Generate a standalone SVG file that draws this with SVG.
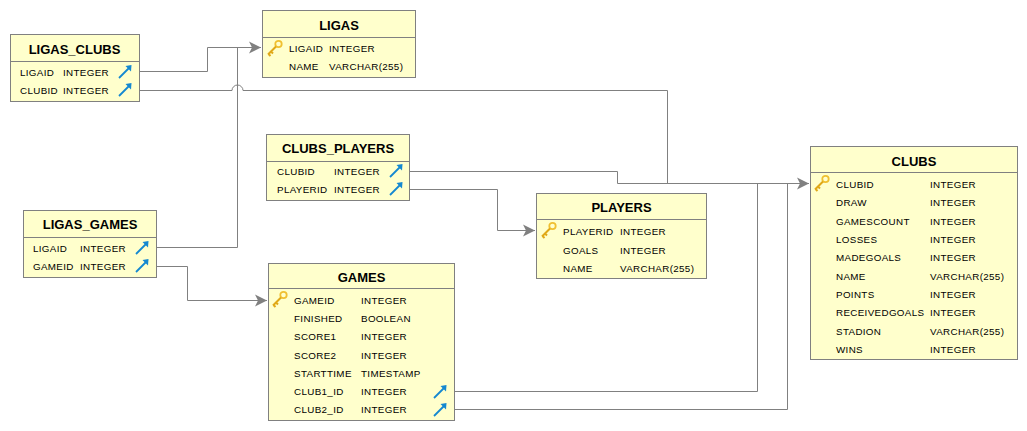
<svg xmlns="http://www.w3.org/2000/svg" xmlns:xlink="http://www.w3.org/1999/xlink" width="1027" height="431" viewBox="0 0 1027 431">
<style>
.b{fill:#ffffcc;stroke:#808080;stroke-width:1}
.h{stroke:#808080;stroke-width:1;fill:none}
.t{font-family:"Liberation Sans",Arial,sans-serif;font-weight:bold;font-size:13px;fill:#000;text-anchor:middle}
.f{font-family:"Liberation Sans",Arial,sans-serif;font-size:9.8px;letter-spacing:.35px;fill:#000;transform:translateY(-.5px)}
.c{fill:none;stroke:#808080;stroke-width:1}
</style>
<defs>
<marker id="ah" markerUnits="userSpaceOnUse" markerWidth="13" markerHeight="14" refX="12" refY="7" orient="auto"><path d="M0 1L12 7L0 13L3 7Z" fill="#808080"/></marker>
<g id="key"><circle cx="12.500" cy="4" r="3.200" fill="none" stroke="#f0c030" stroke-width="1.800"/><path d="M10 6.500L2 14.500M2.500 14L4.500 16M5 11.500L7 13.500" fill="none" stroke="#e0a818" stroke-width="2"/></g>
<g id="fk"><path d="M1 14L11 4" stroke="#1488d0" stroke-width="1.800" fill="none"/><path d="M7.500 2L13.500 1L13 7.500Z" fill="#1488d0"/></g>
</defs>
<g id="connectors">
<path class="c" d="M140 71.500H207.500V47.500H261" marker-end="url(#ah)"/>
<path class="c" d="M140 90.500H232A5.500 5.500 0 0 1 243 90.500H667.500V183.500"/>
<path class="c" d="M157 247.500H237.500V47.500"/>
<path class="c" d="M157 266.500H187.500V300.500H267" marker-end="url(#ah)"/>
<path class="c" d="M410 171.500H617.500V183.500H809" marker-end="url(#ah)"/>
<path class="c" d="M410 189.500H497.500V230.500H535" marker-end="url(#ah)"/>
<path class="c" d="M455 391.500H757.500V183.500"/>
<path class="c" d="M455 409.500H787.500V183.500"/>
</g>
<g id="LIGAS_CLUBS">
<rect class="b" x="10.500" y="34.500" width="129" height="67"/><path class="h" d="M10.500 61.500H139.500"/>
<text class="t" x="74.500" y="54">LIGAS_CLUBS</text>
<text class="f" x="20" y="76.500">LIGAID</text><text class="f" x="63" y="76.500">INTEGER</text>
<text class="f" x="20" y="94.500">CLUBID</text><text class="f" x="63" y="94.500">INTEGER</text>
<use xlink:href="#fk" x="118" y="64"/><use xlink:href="#fk" x="118" y="82"/>
</g>
<g id="LIGAS">
<rect class="b" x="262.500" y="10.500" width="153" height="67"/><path class="h" d="M262.500 37.500H415.500"/>
<text class="t" x="339" y="30">LIGAS</text>
<use xlink:href="#key" x="266" y="40"/>
<text class="f" x="289" y="52.500">LIGAID</text><text class="f" x="329" y="52.500">INTEGER</text>
<text class="f" x="289" y="70.500">NAME</text><text class="f" x="329" y="70.500">VARCHAR(255)</text>
</g>
<g id="CLUBS_PLAYERS">
<rect class="b" x="266.500" y="134.500" width="143" height="66"/><path class="h" d="M266.500 161.500H409.500"/>
<text class="t" x="338" y="153">CLUBS_PLAYERS</text>
<text class="f" x="277" y="175.500">CLUBID</text><text class="f" x="334" y="175.500">INTEGER</text>
<text class="f" x="277" y="193.500">PLAYERID</text><text class="f" x="334" y="193.500">INTEGER</text>
<use xlink:href="#fk" x="389" y="163"/><use xlink:href="#fk" x="389" y="181"/>
</g>
<g id="LIGAS_GAMES">
<rect class="b" x="23.500" y="210.500" width="133" height="67"/><path class="h" d="M23.500 237.500H156.500"/>
<text class="t" x="90" y="229">LIGAS_GAMES</text>
<text class="f" x="33" y="252.500">LIGAID</text><text class="f" x="80" y="252.500">INTEGER</text>
<text class="f" x="33" y="270.500">GAMEID</text><text class="f" x="80" y="270.500">INTEGER</text>
<use xlink:href="#fk" x="135" y="240"/><use xlink:href="#fk" x="135" y="258"/>
</g>
<g id="GAMES">
<rect class="b" x="268.500" y="263.500" width="186" height="157"/><path class="h" d="M268.500 288.500H454.500"/>
<text class="t" x="361.500" y="282">GAMES</text>
<use xlink:href="#key" x="271" y="291"/>
<text class="f" x="294" y="304.500">GAMEID</text><text class="f" x="361" y="304.500">INTEGER</text>
<text class="f" x="294" y="322.500">FINISHED</text><text class="f" x="361" y="322.500">BOOLEAN</text>
<text class="f" x="294" y="340.500">SCORE1</text><text class="f" x="361" y="340.500">INTEGER</text>
<text class="f" x="294" y="359.500">SCORE2</text><text class="f" x="361" y="359.500">INTEGER</text>
<text class="f" x="294" y="377.500">STARTTIME</text><text class="f" x="361" y="377.500">TIMESTAMP</text>
<text class="f" x="294" y="395.500">CLUB1_ID</text><text class="f" x="361" y="395.500">INTEGER</text>
<text class="f" x="294" y="413.500">CLUB2_ID</text><text class="f" x="361" y="413.500">INTEGER</text>
<use xlink:href="#fk" x="433" y="384"/><use xlink:href="#fk" x="433" y="402"/>
</g>
<g id="PLAYERS">
<rect class="b" x="536.500" y="193.500" width="170" height="85"/><path class="h" d="M536.500 219.500H706.500"/>
<text class="t" x="621.500" y="212">PLAYERS</text>
<use xlink:href="#key" x="540" y="222"/>
<text class="f" x="563" y="235">PLAYERID</text><text class="f" x="620" y="235">INTEGER</text>
<text class="f" x="563" y="254">GOALS</text><text class="f" x="620" y="254">INTEGER</text>
<text class="f" x="563" y="272">NAME</text><text class="f" x="620" y="272">VARCHAR(255)</text>
</g>
<g id="CLUBS">
<rect class="b" x="810.500" y="146.500" width="207" height="213"/><path class="h" d="M810.500 172.500H1017.500"/>
<text class="t" x="914" y="166">CLUBS</text>
<use xlink:href="#key" x="813" y="175"/>
<text class="f" x="836" y="188.500">CLUBID</text><text class="f" x="930" y="188.500">INTEGER</text>
<text class="f" x="836" y="206.500">DRAW</text><text class="f" x="930" y="206.500">INTEGER</text>
<text class="f" x="836" y="225">GAMESCOUNT</text><text class="f" x="930" y="225">INTEGER</text>
<text class="f" x="836" y="243.500">LOSSES</text><text class="f" x="930" y="243.500">INTEGER</text>
<text class="f" x="836" y="261.500">MADEGOALS</text><text class="f" x="930" y="261.500">INTEGER</text>
<text class="f" x="836" y="280">NAME</text><text class="f" x="930" y="280">VARCHAR(255)</text>
<text class="f" x="836" y="298">POINTS</text><text class="f" x="930" y="298">INTEGER</text>
<text class="f" x="836" y="316.500">RECEIVEDGOALS</text><text class="f" x="930" y="316.500">INTEGER</text>
<text class="f" x="836" y="335">STADION</text><text class="f" x="930" y="335">VARCHAR(255)</text>
<text class="f" x="836" y="353">WINS</text><text class="f" x="930" y="353">INTEGER</text>
</g>
</svg>
